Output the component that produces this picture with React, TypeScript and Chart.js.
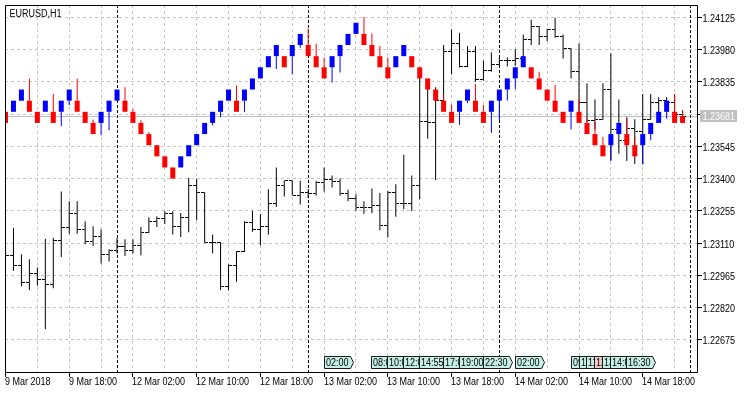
import React, { useEffect, useRef } from "react";
import { Chart, registerables } from "chart.js";

Chart.register(...registerables);

const chartTitle = "EURUSD,H1";

// H1 bars: index 0 = 9 Mar 2018 10:00 ... index 85 = 14 Mar 2018 23:00
const barOpen = [
  1.23075, 1.23056, 1.23011, 1.22931, 1.22975, 1.22946, 1.22926, 1.23122, 1.2318, 1.23243,
  1.23171, 1.23118, 1.23138, 1.2306, 1.23078, 1.23094, 1.23078, 1.231, 1.23158, 1.23205,
  1.2322, 1.23245, 1.23186, 1.23226, 1.2337, 1.23336, 1.23113, 1.23113, 1.22916, 1.23008,
  1.23072, 1.23204, 1.23171, 1.23185, 1.23289, 1.23367, 1.2339, 1.23324, 1.23339, 1.23333,
  1.23383, 1.23394, 1.23387, 1.23335, 1.23311, 1.23268, 1.23271, 1.2328, 1.23189, 1.23336,
  1.23289, 1.2329, 1.23368, 1.23658, 1.23654, 1.23752, 1.23973, 1.24006, 1.23904, 1.23973,
  1.23847, 1.23887, 1.23914, 1.23929, 1.23929, 1.23939, 1.24023, 1.24082, 1.24037, 1.2407,
  1.24037, 1.23984, 1.23881, 1.23743, 1.23662, 1.23667, 1.238, 1.2362, 1.23572, 1.23624,
  1.23613, 1.23666, 1.23743, 1.23751, 1.23743, 1.2369,
];
const barHigh = [
  1.23097, 1.23179, 1.2306, 1.23038, 1.23, 1.2313, 1.23134, 1.23342, 1.23298, 1.23298,
  1.23208, 1.23186, 1.23171, 1.23082, 1.23134, 1.23127, 1.23127, 1.23182, 1.23226, 1.23231,
  1.23253, 1.23253, 1.23245, 1.23404, 1.23399, 1.23339, 1.23149, 1.23115, 1.23015, 1.23074,
  1.23208, 1.23256, 1.23241, 1.23352, 1.2345, 1.23391, 1.23391, 1.2339, 1.23352, 1.2339,
  1.2345, 1.23414, 1.23401, 1.2335, 1.2333, 1.23298, 1.23355, 1.23335, 1.23345, 1.23375,
  1.23507, 1.23414, 1.23854, 1.23805, 1.2381, 1.24, 1.2407, 1.24055, 1.23996, 1.23996,
  1.23929, 1.23966, 1.23944, 1.23944, 1.23981, 1.24047, 1.24114, 1.24085, 1.24073, 1.24122,
  1.24047, 1.23986, 1.24007, 1.23828, 1.23755, 1.23828, 1.23963, 1.23755, 1.23676, 1.23666,
  1.2378, 1.2378, 1.23765, 1.23765, 1.23779, 1.23707,
];
const barLow = [
  1.23021, 1.22986, 1.22916, 1.229, 1.22919, 1.22723, 1.22907, 1.23048, 1.23152, 1.23152,
  1.23105, 1.23097, 1.23018, 1.23027, 1.23063, 1.23052, 1.23063, 1.23056, 1.23156, 1.23183,
  1.23196, 1.23149, 1.23138, 1.23159, 1.23213, 1.23112, 1.23065, 1.229, 1.22897, 1.22937,
  1.2307, 1.23161, 1.231, 1.23149, 1.23272, 1.2332, 1.23324, 1.23283, 1.23312, 1.23324,
  1.23342, 1.2336, 1.23323, 1.23298, 1.23256, 1.23242, 1.23244, 1.23168, 1.23135, 1.23228,
  1.23262, 1.23254, 1.23308, 1.2358, 1.23394, 1.23746, 1.23869, 1.23899, 1.23901, 1.23835,
  1.2384, 1.2388, 1.23907, 1.23904, 1.23907, 1.23929, 1.24, 1.24, 1.24018, 1.24033,
  1.23939, 1.2385, 1.23676, 1.23654, 1.23621, 1.23664, 1.23483, 1.23513, 1.23479, 1.23466,
  1.23464, 1.23664, 1.23699, 1.23699, 1.23663, 1.23654,
];
const barClose = [
  1.23056, 1.23011, 1.22931, 1.22975, 1.22946, 1.22926, 1.23122, 1.2318, 1.23243, 1.23171,
  1.23118, 1.23138, 1.2306, 1.23078, 1.23094, 1.23078, 1.231, 1.23158, 1.23205, 1.2322,
  1.23245, 1.23186, 1.23226, 1.2337, 1.23336, 1.23113, 1.23113, 1.22916, 1.23008, 1.23072,
  1.23204, 1.23171, 1.23185, 1.23289, 1.23367, 1.2339, 1.23324, 1.23339, 1.23333, 1.23383,
  1.23394, 1.23387, 1.23335, 1.23311, 1.23268, 1.23271, 1.2328, 1.23189, 1.23336, 1.23289,
  1.2329, 1.23368, 1.23658, 1.23654, 1.23752, 1.23973, 1.24006, 1.23904, 1.23973, 1.23847,
  1.23887, 1.23914, 1.23929, 1.23929, 1.23939, 1.24023, 1.24082, 1.24037, 1.2407, 1.24037,
  1.23984, 1.23881, 1.23743, 1.23662, 1.23667, 1.238, 1.2362, 1.23572, 1.23624, 1.23613,
  1.23666, 1.23743, 1.23751, 1.23743, 1.2369, 1.23681,
];

// Renko brick shown on each bar
const brickLow = [
  1.2365, 1.237, 1.2375, 1.237, 1.2365, 1.237, 1.2365, 1.237, 1.2375, 1.237,
  1.2365, 1.236, 1.2365, 1.237, 1.2375, 1.237, 1.2365, 1.236, 1.2355, 1.235,
  1.2345, 1.234, 1.2345, 1.235, 1.2355, 1.236, 1.2365, 1.237, 1.2375, 1.237,
  1.2375, 1.238, 1.2385, 1.239, 1.2395, 1.239, 1.2395, 1.24, 1.2395, 1.239,
  1.2385, 1.239, 1.2395, 1.24, 1.2405, 1.24, 1.2395, 1.239, 1.2385, 1.239,
  1.2395, 1.239, 1.2385, 1.238, 1.2375, 1.237, 1.2365, 1.237, 1.2375, 1.237,
  1.2365, 1.237, 1.2375, 1.238, 1.2385, 1.239, 1.2385, 1.238, 1.2375, 1.237,
  1.2365, 1.237, 1.2365, 1.236, 1.2355, 1.235, 1.2355, 1.236, 1.2355, 1.235,
  1.2355, 1.236, 1.2365, 1.237, 1.2365, 1.2365,
];
const brickHigh = [
  1.237, 1.2375, 1.238, 1.2375, 1.237, 1.2375, 1.237, 1.2375, 1.238, 1.2375,
  1.237, 1.2365, 1.237, 1.2375, 1.238, 1.2375, 1.237, 1.2365, 1.236, 1.2355,
  1.235, 1.2345, 1.235, 1.2355, 1.236, 1.2365, 1.237, 1.2375, 1.238, 1.2375,
  1.238, 1.2385, 1.239, 1.2395, 1.24, 1.2395, 1.24, 1.2405, 1.24, 1.2395,
  1.239, 1.2395, 1.24, 1.2405, 1.241, 1.2405, 1.24, 1.2395, 1.239, 1.2395,
  1.24, 1.2395, 1.239, 1.2385, 1.238, 1.2375, 1.237, 1.2375, 1.238, 1.2375,
  1.237, 1.2375, 1.238, 1.2385, 1.239, 1.2395, 1.239, 1.2385, 1.238, 1.2375,
  1.237, 1.2375, 1.237, 1.2365, 1.236, 1.2355, 1.236, 1.2365, 1.236, 1.2355,
  1.236, 1.2365, 1.237, 1.2375, 1.237, 1.23681,
];
// 1 = up brick (blue), -1 = down brick (red)
const brickDir = [
  -1, 1, 1, -1, -1, 1, -1, 1, 1, -1,
  -1, -1, 1, 1, 1, -1, -1, -1, -1, -1,
  -1, -1, 1, 1, 1, 1, 1, 1, 1, -1,
  1, 1, 1, 1, 1, -1, 1, 1, -1, -1,
  -1, 1, 1, 1, 1, -1, -1, -1, -1, 1,
  1, -1, -1, -1, -1, -1, -1, 1, 1, -1,
  -1, 1, 1, 1, 1, 1, -1, -1, -1, -1,
  -1, 1, -1, -1, -1, -1, 1, 1, -1, -1,
  1, 1, 1, 1, -1, -1,
];
// wick end of each brick (above a red brick, below a blue one)
const brickWick = [
  null, null, null, 1.2385, null, null, 1.2378, 1.23635, 1.23731, 1.2385,
  null, 1.23665, 1.23595, 1.23617, null, 1.2381, 1.23713, 1.23662, 1.23609, null,
  null, null, null, null, null, null, 1.23639, 1.23676, null, 1.23818,
  1.23699, null, null, null, 1.23892, null, 1.23869, 1.23988, 1.24073, 1.24006,
  1.23944, 1.23832, 1.23877, null, null, 1.24126, 1.24052, 1.23996, 1.23944, null,
  null, null, null, null, null, 1.2378, 1.23734, 1.23642, 1.2374, 1.23825,
  1.23731, 1.23606, 1.23662, 1.23751, 1.23802, null, null, 1.2388, null, 1.2382,
  null, 1.23621, 1.23758, 1.23669, 1.23654, 1.23587, 1.23479, null, 1.23669, 1.23587,
  1.23464, 1.23572, null, 1.23669, 1.2378, 1.23707,
];

const currentPrice = 1.23681;
const priceTicks = [1.22675, 1.2282, 1.22965, 1.2311, 1.23255, 1.234, 1.23545, 1.2369, 1.23835, 1.2398, 1.24125];
const timeTickBars = [0, 8, 16, 24, 32, 40, 48, 56, 64, 72, 80];
const timeTickLabels = [
  "9 Mar 2018", "9 Mar 18:00", "12 Mar 02:00", "12 Mar 10:00", "12 Mar 18:00", "13 Mar 02:00",
  "13 Mar 10:00", "13 Mar 18:00", "14 Mar 02:00", "14 Mar 10:00", "14 Mar 18:00",
];
const daySeparatorBars = [14, 38, 62, 86];
const eventBars = [40, 46, 48, 50, 52, 55, 57, 60, 64, 71, 72, 73, 74, 75, 76, 78];
const eventTimes = ["02:00", "08:00", "10:00", "12:00", "14:55", "17:00", "19:00", "22:30", "02:00", "09:30", "10:00", "11:00", "12:00", "13:00", "14:00", "16:30"];
const eventHighImpact = [false, false, false, false, false, false, false, false, false, false, false, false, true, false, false, false];

const FONT = "10px 'Liberation Sans', Arial, sans-serif";
const SX = 0.9;
const BLUE = "#0000ff";
const RED = "#ff0000";

function drawText(ctx: any, s: string, x: number, y: number, color: string) {
  ctx.save();
  ctx.font = FONT;
  ctx.fillStyle = color;
  ctx.textAlign = "left";
  ctx.textBaseline = "alphabetic";
  ctx.translate(x, y);
  ctx.scale(SX, 1);
  ctx.fillText(s, 0, 0);
  ctx.restore();
}
function textWidth(ctx: any, s: string) {
  ctx.save();
  ctx.font = FONT;
  const w = ctx.measureText(s).width * SX;
  ctx.restore();
  return w;
}
const half = (v: number) => Math.round(v - 0.5) + 0.5;

const mt4Plugin = {
  id: "mt4look",
  beforeDatasetsDraw(chart: any) {
    const { ctx, chartArea: a } = chart;
    const xs = chart.scales.x;
    const ys = chart.scales.y;
    ctx.save();
    ctx.lineWidth = 1;
    ctx.strokeStyle = "#c6c6c6";
    ctx.setLineDash([3, 3]);
    for (const v of priceTicks) {
      const py = half(ys.getPixelForValue(v));
      ctx.beginPath(); ctx.moveTo(a.left, py); ctx.lineTo(a.right, py); ctx.stroke();
    }
    for (let b = 4; b < xs.max; b += 4) {
      const px = half(xs.getPixelForValue(b));
      ctx.beginPath(); ctx.moveTo(px, a.top); ctx.lineTo(px, a.bottom); ctx.stroke();
    }
    ctx.setLineDash([]);
    ctx.strokeStyle = "#c0c0c0";
    const cp = half(ys.getPixelForValue(currentPrice));
    ctx.beginPath(); ctx.moveTo(a.left, cp); ctx.lineTo(a.right, cp); ctx.stroke();
    ctx.setLineDash([3, 2]);
    ctx.strokeStyle = "#000";
    for (const b of daySeparatorBars) {
      const px = half(xs.getPixelForValue(b));
      ctx.beginPath(); ctx.moveTo(px, a.top); ctx.lineTo(px, a.bottom); ctx.stroke();
    }
    ctx.restore();
  },
  afterDatasetsDraw(chart: any) {
    const { ctx, chartArea: a } = chart;
    const xs = chart.scales.x;
    const ys = chart.scales.y;
    ctx.save();
    ctx.lineWidth = 1;
    ctx.setLineDash([]);
    ctx.strokeStyle = "#000";
    // frame
    ctx.beginPath();
    ctx.moveTo(a.left + 0.5, a.top + 0.5);
    ctx.lineTo(a.right - 0.5, a.top + 0.5);
    ctx.lineTo(a.right - 0.5, a.bottom + 0.5);
    ctx.lineTo(a.left + 0.5, a.bottom + 0.5);
    ctx.closePath();
    ctx.stroke();
    // price axis
    for (const v of priceTicks) {
      const py = half(ys.getPixelForValue(v));
      ctx.beginPath(); ctx.moveTo(a.right - 0.5, py); ctx.lineTo(a.right + 4, py); ctx.stroke();
      drawText(ctx, v.toFixed(5), a.right + 4.5, py + 4, "#000");
    }
    const cp = ys.getPixelForValue(currentPrice);
    ctx.fillStyle = "#c0c0c0";
    ctx.fillRect(a.right + 2, Math.round(cp) - 6, 37, 12);
    drawText(ctx, currentPrice.toFixed(5), a.right + 4.5, Math.round(cp) + 4, "#ffffff");
    // time axis
    timeTickBars.forEach((b, i) => {
      const px = half(xs.getPixelForValue(b));
      ctx.beginPath(); ctx.moveTo(px, a.bottom); ctx.lineTo(px, a.bottom + 5); ctx.stroke();
      drawText(ctx, timeTickLabels[i], px - 0.5, a.bottom + 13, "#000");
    });
    // event markers
    const top = a.bottom - 15.5;
    const bot = a.bottom - 3.5;
    const mid = (top + bot) / 2;
    eventBars.forEach((b, i) => {
      const x0 = Math.round(xs.getPixelForValue(b) - 0.5);
      const tw = textWidth(ctx, eventTimes[i]);
      const left = x0 + 0.5;
      const right = Math.round(x0 + tw + 3) + 0.5;
      ctx.beginPath();
      ctx.moveTo(left, top);
      ctx.lineTo(right, top);
      ctx.lineTo(right + 3, mid);
      ctx.lineTo(right, bot);
      ctx.lineTo(left, bot);
      ctx.closePath();
      ctx.fillStyle = eventHighImpact[i] ? "#f6c8c8" : "#c6efe8";
      ctx.fill();
      ctx.strokeStyle = "#1a1a1a";
      ctx.stroke();
      drawText(ctx, eventTimes[i], x0 + 2, bot - 2.5, "#000");
    });
    drawText(ctx, chartTitle, a.left + 4.5, a.top + 11.5, "#000");
    ctx.restore();
  },
};

function makeTick(isOpen: boolean) {
  const c = document.createElement("canvas");
  c.width = 7;
  c.height = 1;
  const g = c.getContext("2d")!;
  g.fillStyle = "#000";
  g.fillRect(isOpen ? 0 : 4, 0, 3, 1);
  return c;
}

export default function App() {
  const ref = useRef<HTMLCanvasElement>(null);
  useEffect(() => {
    const canvas = ref.current;
    if (!canvas) return;
    const idx = barClose.map((_, i) => i);
    const openTick = makeTick(true);
    const closeTick = makeTick(false);
    const wickIdx = idx.filter((i) => brickWick[i] !== null);
    const chart = new Chart(canvas, {
      type: "bar",
      data: {
        datasets: [
          {
            type: "bar",
            label: "High-Low",
            data: idx.map((i) => ({ x: i, y: [barLow[i], barHigh[i]] })),
            backgroundColor: "#000",
            borderWidth: 0,
            barThickness: 1,
            grouped: false,
            inflateAmount: 0,
            order: 5,
          },
          {
            type: "scatter",
            label: "Open",
            data: idx.map((i) => ({ x: i, y: barOpen[i] })),
            pointStyle: openTick,
            pointRadius: 3,
            order: 4,
          },
          {
            type: "scatter",
            label: "Close",
            data: idx.map((i) => ({ x: i, y: barClose[i] })),
            pointStyle: closeTick,
            pointRadius: 3,
            order: 4,
          },
          {
            type: "bar",
            label: "Renko wick",
            data: wickIdx.map((i) => ({
              x: i,
              y: brickDir[i] > 0 ? [brickWick[i], brickLow[i]] : [brickHigh[i], brickWick[i]],
            })),
            backgroundColor: wickIdx.map((i) => (brickDir[i] > 0 ? BLUE : RED)),
            borderWidth: 0,
            barThickness: 1,
            grouped: false,
            inflateAmount: 0,
            order: 2,
          },
          {
            type: "bar",
            label: "Renko",
            data: idx.map((i) => ({ x: i, y: [brickLow[i], brickHigh[i]] })),
            backgroundColor: idx.map((i) => (brickDir[i] > 0 ? BLUE : RED)),
            borderWidth: 0,
            barThickness: 5,
            grouped: false,
            inflateAmount: 0,
            order: 1,
          },
        ] as any,
      },
      options: {
        responsive: false,
        animation: false,
        devicePixelRatio: 1,
        events: [],
        layout: { padding: { left: 2, top: 2, right: 52, bottom: 21 } },
        plugins: { legend: { display: false }, tooltip: { enabled: false }, title: { display: false } },
        scales: {
          x: { type: "linear", display: false, offset: false, min: -0.0625, max: 86.9375 },
          y: { type: "linear", display: false, min: 1.2253107, max: 1.2417981 },
        },
      } as any,
      plugins: [mt4Plugin as any],
    });
    return () => chart.destroy();
  }, []);
  return (
    <div style={{ position: "fixed", left: 0, top: 0, width: 750, height: 393, background: "#fff" }}>
      <canvas ref={ref} width={750} height={393} style={{ display: "block", width: 750, height: 393 }} />
    </div>
  );
}
